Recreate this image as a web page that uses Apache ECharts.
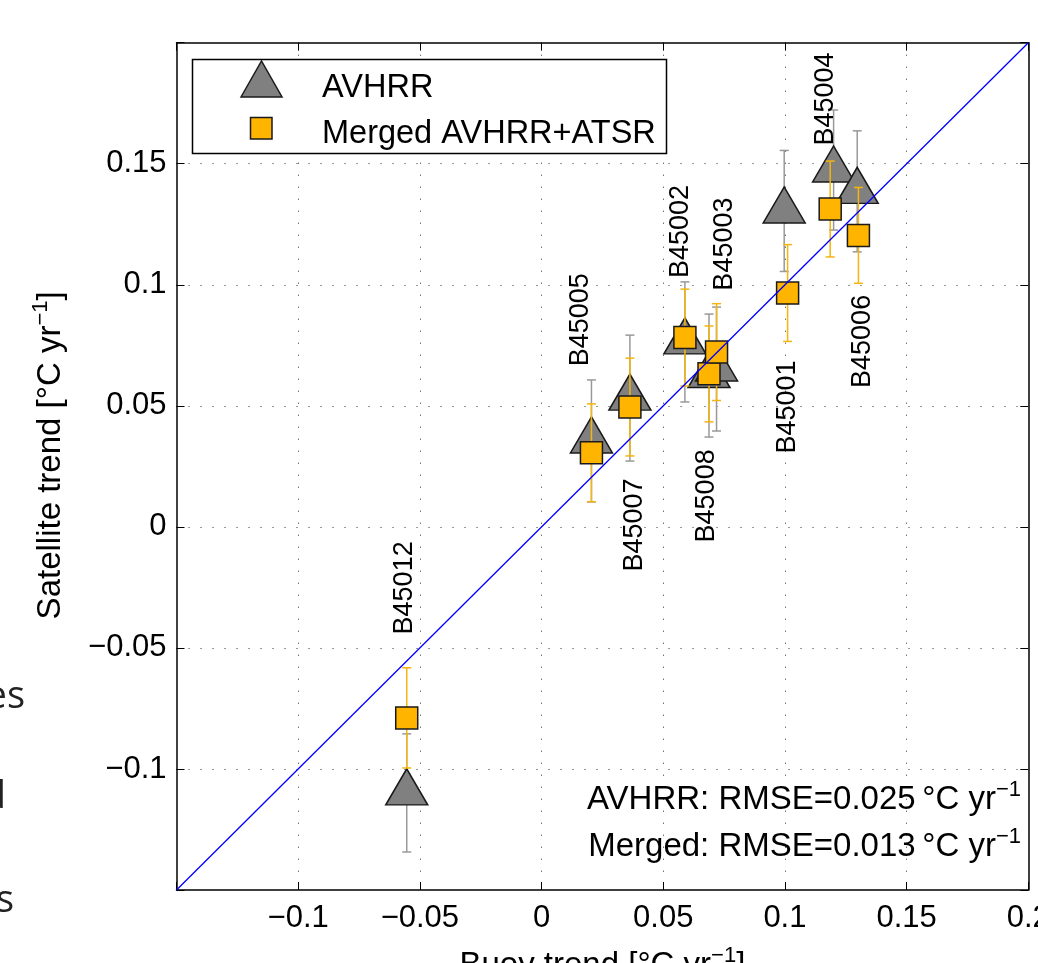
<!DOCTYPE html>
<html>
<head>
<meta charset="utf-8">
<script src="https://cdn.jsdelivr.net/npm/echarts@6/dist/echarts.min.js"></script>
<style>
  html, body { margin: 0; padding: 0; background: #fff; overflow: hidden; }
  #chart { width: 1038px; height: 963px; }
</style>
</head>
<body>
<div id="chart"></div>
<script>
// Buoy stations, ordered by buoy trend
const stations = ['B45012', 'B45005', 'B45007', 'B45002', 'B45008', 'B45003', 'B45001', 'B45004', 'B45006'];

// Buoy trend (°C/yr) paired with each satellite product
const buoyTrendAvhrr  = [-0.0554, 0.0205, 0.0363, 0.0589, 0.0688, 0.0719, 0.0997, 0.1200, 0.1297];
const buoyTrendMerged = [-0.0554, 0.0205, 0.0363, 0.0589, 0.0688, 0.0719, 0.1011, 0.1186, 0.1302];

// Satellite trends (°C/yr) and their uncertainties
const avhrrTrend  = [-0.1099, 0.0355, 0.0532, 0.0764, 0.0625, 0.0652, 0.1305, 0.1474, 0.1386];
const avhrrError  = [0.0244, 0.0252, 0.0260, 0.0248, 0.0254, 0.0256, 0.0250, 0.0248, 0.0250];
const mergedTrend = [-0.0789, 0.0306, 0.0495, 0.0782, 0.0632, 0.0722, 0.0966, 0.1313, 0.1204];
const mergedError = [0.0207, 0.0202, 0.0202, 0.0200, 0.0198, 0.0200, 0.0200, 0.0198, 0.0198];

// Tick labels for -0.15 ... 0.2 in steps of 0.05
const xTickLabels = ['', '\u22120.1', '\u22120.05', '0', '0.05', '0.1', '0.15', '0.2'];
const yTickLabels = ['', '\u22120.1', '\u22120.05', '0', '0.05', '0.1', '0.15', ''];

const seriesNames = ['AVHRR', 'Merged AVHRR+ATSR'];
const rmseLines = [
  { label: 'AVHRR: RMSE=0.025', unit: '\u2009\u00B0C yr' },
  { label: 'Merged: RMSE=0.013', unit: '\u2009\u00B0C yr' }
];

// Station label placement relative to the merged marker (px)
const labelShift = [[-2, -130], [-11, -133], [5, 118], [-4, -106], [-2, 122], [8, -108], [0, 114], [-5, -110], [4, 106]];

const FONT = '"Liberation Sans", Arial, Helvetica, sans-serif';
const GRAY_FILL = '#808080';
const ORANGE = '#ffb400';
const ERR_GRAY = '#999999';
const ERR_ORANGE = '#f5b40f';

const axisMin = -0.15, axisMax = 0.2, step = 0.05;
const tickIndex = v => Math.round((v - axisMin) / step);

const chart = echarts.init(document.getElementById('chart'), null, { renderer: 'canvas' });

function errorBars(name, xs, ys, errs, color, z) {
  return {
    type: 'custom',
    name: name + ' error',
    z: z,
    silent: true,
    data: xs.map((x, i) => [x, ys[i] - errs[i], ys[i] + errs[i]]),
    encode: { x: 0, y: [1, 2] },
    renderItem: function (params, api) {
      const x = api.value(0);
      const lo = api.coord([x, api.value(1)]);
      const hi = api.coord([x, api.value(2)]);
      const hw = 4.5;
      const style = { stroke: color, lineWidth: 1.5 };
      return {
        type: 'group',
        children: [
          { type: 'line', shape: { x1: lo[0], y1: lo[1], x2: hi[0], y2: hi[1] }, style: style },
          { type: 'line', shape: { x1: lo[0] - hw, y1: lo[1], x2: lo[0] + hw, y2: lo[1] }, style: style },
          { type: 'line', shape: { x1: hi[0] - hw, y1: hi[1], x2: hi[0] + hw, y2: hi[1] }, style: style }
        ]
      };
    }
  };
}

const supRich = {
  a: { fontFamily: FONT, fontSize: 33, color: '#000', lineHeight: 42 },
  s: { fontFamily: FONT, fontSize: 22, color: '#000', lineHeight: 23, verticalAlign: 'top' }
};

const option = {
  backgroundColor: '#fff',
  animation: false,
  grid: { left: 176.5, right: 9.7, top: 42.7, bottom: 73, containLabel: false, outerBoundsMode: 'none' },
  xAxis: [
    {
      type: 'value', min: axisMin, max: axisMax, interval: step,
      name: '{a|Buoy trend [\u00B0C yr}{s|\u22121}{a|]}',
      nameLocation: 'middle', nameGap: 55,
      nameTextStyle: { rich: supRich },
      axisLine: { show: true, onZero: false, lineStyle: { color: '#000', width: 1.5 } },
      axisTick: { show: true, inside: true, length: 8, lineStyle: { color: '#000', width: 1 } },
      axisLabel: {
        margin: 13, color: '#000', fontFamily: FONT, fontSize: 31,
        formatter: v => xTickLabels[tickIndex(v)]
      },
      splitLine: {
        show: true, showMinLine: false, showMaxLine: false,
        lineStyle: { color: '#333', width: 1, type: [1, 11] }
      }
    },
    {
      type: 'value', min: axisMin, max: axisMax, interval: step, position: 'top',
      axisLine: { show: true, onZero: false, lineStyle: { color: '#000', width: 1.5 } },
      axisTick: { show: true, inside: true, length: 8, lineStyle: { color: '#000', width: 1 } },
      axisLabel: { show: false },
      splitLine: { show: false }
    }
  ],
  yAxis: [
    {
      type: 'value', min: axisMin, max: axisMax, interval: step,
      name: '{a|Satellite trend [\u00B0C yr}{s|\u22121}{a|]}',
      nameLocation: 'middle', nameGap: 105, nameRotate: 90,
      nameTextStyle: { rich: supRich, padding: [0, 0, 0, 22] },
      axisLine: { show: true, onZero: false, lineStyle: { color: '#000', width: 1.5 } },
      axisTick: { show: true, inside: true, length: 8, lineStyle: { color: '#000', width: 1 } },
      axisLabel: {
        margin: 10, color: '#000', fontFamily: FONT, fontSize: 31,
        formatter: v => yTickLabels[tickIndex(v)]
      },
      splitLine: {
        show: true, showMinLine: false, showMaxLine: false,
        lineStyle: { color: '#333', width: 1, type: [1, 11] }
      }
    },
    {
      type: 'value', min: axisMin, max: axisMax, interval: step, position: 'right',
      axisLine: { show: true, onZero: false, lineStyle: { color: '#000', width: 1.5 } },
      axisTick: { show: true, inside: true, length: 8, lineStyle: { color: '#000', width: 1 } },
      axisLabel: { show: false },
      splitLine: { show: false }
    }
  ],
  series: [
    errorBars(seriesNames[0], buoyTrendAvhrr, avhrrTrend, avhrrError, ERR_GRAY, 1),
    {
      type: 'scatter', name: seriesNames[0], z: 2,
      data: buoyTrendAvhrr.map((x, i) => [x, avhrrTrend[i]]),
      symbol: 'triangle', symbolSize: [42, 36], symbolOffset: [0, -6],
      itemStyle: { color: GRAY_FILL, borderColor: '#1a1a1a', borderWidth: 1.5, opacity: 1 }
    },
    errorBars(seriesNames[1], buoyTrendMerged, mergedTrend, mergedError, ERR_ORANGE, 3),
    {
      type: 'scatter', name: seriesNames[1], z: 4,
      data: buoyTrendMerged.map((x, i) => [x, mergedTrend[i]]),
      symbol: 'rect', symbolSize: 22,
      itemStyle: { color: ORANGE, borderColor: '#1a1a1a', borderWidth: 1.5, opacity: 1 }
    },
    {
      // 1:1 reference line across the full axis range
      type: 'line', z: 5, silent: true, symbol: 'none',
      data: [[axisMin, axisMin], [axisMax, axisMax]],
      lineStyle: { color: '#0000ff', width: 1.3 }
    },
    {
      // station names next to each buoy
      type: 'custom', z: 6, silent: true,
      data: buoyTrendMerged.map((x, i) => [x, mergedTrend[i]]),
      renderItem: function (params, api) {
        const p = api.coord([api.value(0), api.value(1)]);
        const off = labelShift[params.dataIndex];
        return {
          type: 'text',
          x: p[0] + off[0], y: p[1] + off[1],
          rotation: Math.PI / 2,
          style: {
            text: stations[params.dataIndex],
            fontFamily: FONT, fontSize: 27, fill: '#000',
            align: 'center', verticalAlign: 'middle'
          }
        };
      }
    }
  ],
  graphic: [
    // legend box
    { type: 'rect', z: 100, shape: { x: 192.5, y: 59.5, width: 474, height: 94 },
      style: { fill: '#fff', stroke: '#000', lineWidth: 1.5 } },
    { type: 'polygon', z: 101, shape: { points: [[241, 97], [261.5, 61], [282, 97]] },
      style: { fill: GRAY_FILL, stroke: '#1a1a1a', lineWidth: 1.5 } },
    { type: 'rect', z: 101, shape: { x: 250.5, y: 117.5, width: 21.5, height: 21.5 },
      style: { fill: ORANGE, stroke: '#1a1a1a', lineWidth: 1.5 } },
    { type: 'text', z: 101, x: 322, y: 88,
      style: { text: seriesNames[0], fontFamily: FONT, fontSize: 32.5, fill: '#000', align: 'left', verticalAlign: 'middle' } },
    { type: 'text', z: 101, x: 322, y: 134,
      style: { text: seriesNames[1], fontFamily: FONT, fontSize: 32.5, fill: '#000', align: 'left', verticalAlign: 'middle' } },
    // RMSE annotations
    ...rmseLines.map((r, i) => ({
      type: 'text', z: 101, x: 1021, y: 800 + i * 47,
      style: {
        text: '{a|' + r.label + r.unit + '}{s|\u22121}',
        align: 'right', verticalAlign: 'middle',
        rich: {
          a: { fontFamily: FONT, fontSize: 33, fill: '#000', lineHeight: 42 },
          s: { fontFamily: FONT, fontSize: 22, fill: '#000', lineHeight: 22, verticalAlign: 'top' }
        }
      }
    })),
    // text running in from the neighbouring column at the left edge
    { type: 'text', z: 101, x: 25, y: 697,
      style: { text: 'es', fontFamily: '"Open Sans", sans-serif', fontSize: 38, fill: '#222', align: 'right', verticalAlign: 'middle' } },
    { type: 'text', z: 101, x: 6, y: 797,
      style: { text: 'd', fontFamily: '"Open Sans", sans-serif', fontSize: 38, fill: '#222', align: 'right', verticalAlign: 'middle' } },
    { type: 'text', z: 101, x: 14, y: 901,
      style: { text: 's', fontFamily: '"Open Sans", sans-serif', fontSize: 38, fill: '#222', align: 'right', verticalAlign: 'middle' } }
  ]
};

chart.setOption(option);
</script>
</body>
</html>
